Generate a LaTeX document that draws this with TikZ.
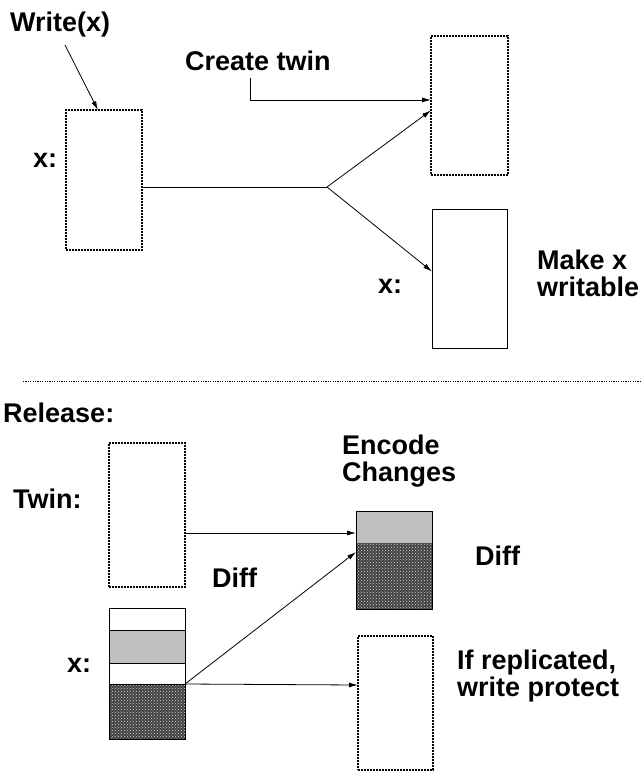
\documentclass[tikz,border=0pt]{standalone}
\usepackage{fontspec}
\setmainfont{Liberation Sans}
\usetikzlibrary{arrows.meta,calc,patterns}
\begin{document}
\begin{tikzpicture}[x=1pt,y=-1pt,
  lbl/.style={font=\fontsize{27}{27}\selectfont\bfseries, inner sep=0pt, anchor=base west},
  lbltwo/.style={font=\fontsize{27}{27}\selectfont\bfseries, inner sep=0pt, anchor=north west, align=left},
  dotbox/.style={draw, line width=1.8pt, dash pattern=on 1.8pt off 1.2pt, inner sep=0pt, outer sep=0pt},
  solidbox/.style={draw, line width=0.9pt, inner sep=0pt, outer sep=0pt},
  conn/.style={line width=0.8pt},
  arr/.style={line width=0.8pt, -{Latex[length=9pt,width=5pt]}},
  divider/.style={line width=0.8pt, dash pattern=on 1.2pt off 1.2pt},
  lightfill/.style={fill=black!25},
  darkfill/.style={fill=black!75},
  darkpat/.style={pattern=crosshatch dots, pattern color=black!15}
]
\useasboundingbox (0,0) rectangle (640,771);

% ---------- top part ----------
\node[dotbox, minimum width=76, minimum height=140] (b1) at (104,180) {};
\node[lbl] (wx) at (10,31) {Write(x)};
\coordinate (ws) at (65,45);
\draw[arr] (ws) -- ($(b1.north west)!0.42!(b1.north east)$);
\node[lbl] (x1) at (33,167) {x:};

\coordinate (j) at (327,187);
\draw[conn] (b1.east |- j) -- (j);

\node[dotbox, minimum width=77, minimum height=139] (b2) at (469.5,105.5) {};
\draw[arr] (j) -- ($(b2.north west)!0.535!(b2.south west)$);

\node[lbl] (ct) at (185,70) {Create twin};
\coordinate (ctc) at (250,78);
\draw[arr] (ctc) |- ($(b2.north west)!0.46!(b2.south west)$);

\node[solidbox, minimum width=75, minimum height=139] (b3) at (469.5,278.5) {};
\draw[arr] (j) -- ($(b3.north west)!0.45!(b3.south west)$);
\node[lbl] (x2) at (378,293) {x:};
\node[lbltwo] (mx) at (537,250) {Make x\\writable};

% ---------- divider ----------
\coordinate (dl) at (23,381);
\coordinate (dr) at (640,381);
\draw[divider] (dl) -- (dr);

% ---------- bottom part ----------
\node[lbl] (rel) at (3,422) {Release:};
\node[lbl] (tw) at (13,508) {Twin:};
\node[dotbox, minimum width=76, minimum height=144] (b4) at (147,515) {};

% diff box
\coordinate (dnw) at (356,511);
\coordinate (dmid) at (432,543);
\coordinate (dse) at (432,609);
\fill[lightfill] (dnw) rectangle (dmid);
\fill[darkfill] (dnw |- dmid) rectangle (dse);
\fill[darkpat] (dnw |- dmid) rectangle (dse);
\node[solidbox, minimum width=76, minimum height=98] (db) at (394,560) {};

\coordinate (ytw) at (0,533);
\draw[arr] (b4.east |- ytw) -- (db.west |- ytw);
\node[lbl] (d1) at (212,587) {Diff};
\node[lbltwo] (enc) at (342,435) {Encode\\Changes};
\node[lbl] (d2) at (475,565) {Diff};

% x stack
\coordinate (xnw) at (109,608);
\coordinate (xa) at (185,630);
\coordinate (xb) at (185,663);
\coordinate (xc) at (185,684);
\coordinate (xse) at (185,739);
\fill[lightfill] (xnw |- xa) rectangle (xb);
\fill[darkfill] (xnw |- xc) rectangle (xse);
\fill[darkpat] (xnw |- xc) rectangle (xse);
\draw[line width=0.9pt] (xnw |- xa) -- (xa) (xnw |- xb) -- (xb) (xnw |- xc) -- (xc);
\node[solidbox, minimum width=76, minimum height=131] (xs) at (147,673.5) {};
\node[lbl] (x3) at (67,672) {x:};

\node[dotbox, minimum width=75, minimum height=134] (b5) at (395.5,703) {};
\coordinate (ydb) at (0,552);
\coordinate (yb5) at (0,685);
\draw[arr] (xc) -- (db.west |- ydb);
\draw[arr] (xc) -- (b5.west |- yb5);
\node[lbltwo] (ifr) at (457,650) {If replicated,\\write protect};
\end{tikzpicture}
\end{document}
